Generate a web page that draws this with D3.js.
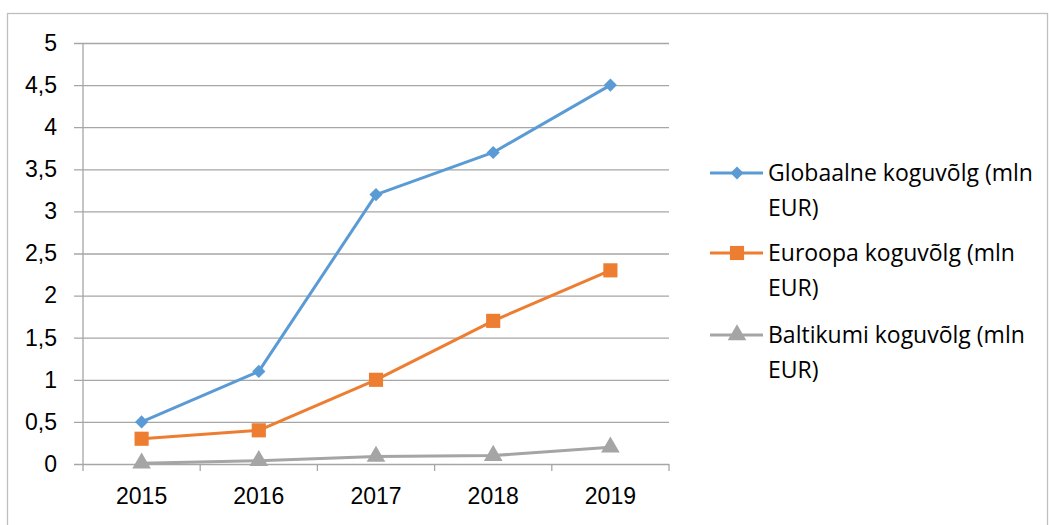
<!DOCTYPE html>
<html>
<head>
<meta charset="utf-8">
<script src="https://cdn.jsdelivr.net/npm/d3@7"></script>
<style>
  body { margin: 0; background: #fff; }
  svg { display: block; font-family: "Open Sans", Lato, sans-serif; }
</style>
</head>
<body>
<div id="chart"></div>
<script>
'use strict';

// data
let years = ['2015', '2016', '2017', '2018', '2019'];
let globalValues = [0.5, 1.1, 3.2, 3.7, 4.5];
let europeValues = [0.3, 0.4, 1.0, 1.7, 2.3];
let balticValues = [0.01, 0.04, 0.09, 0.1, 0.2];
let seriesNames = ['Globaalne koguvõlg (mln EUR)', 'Euroopa koguvõlg (mln EUR)', 'Baltikumi koguvõlg (mln EUR)'];
let yTicks = [0, 0.5, 1, 1.5, 2, 2.5, 3, 3.5, 4, 4.5, 5];

let w = 1049, h = 525;
let plot = {left: 83, right: 669, top: 43, bottom: 464};
let fontSize = 23;

let svg = d3.select('#chart').append('svg').attr('width', w).attr('height', h);

// outer frame
svg.append('rect')
    .attr('x', 7.5).attr('y', 13.5)
    .attr('width', 1040).attr('height', 530)
    .attr('fill', 'none').attr('stroke', '#bfbfbf').attr('stroke-width', 1.3);

let x = d3.scaleBand().domain(years).range([plot.left, plot.right]);
let y = d3.scaleLinear().domain([0, 5]).range([plot.bottom, plot.top]);

//gridlines + y labels
let yAxis = d3.axisLeft(y).tickValues(yTicks)
    .tickSize(-(plot.right - plot.left) - 9)
    .tickFormat(d => String(d).replace('.', ','));
let gy = svg.append('g')
    .attr('transform', `translate(${plot.right},0)`)
    .call(yAxis);
gy.select('.domain').remove();
gy.selectAll('.tick line')
    .attr('stroke', '#a6a6a6').attr('stroke-width', 1.3)
    .attr('x1', 0).attr('x2', -(plot.right - plot.left) - 9);
gy.selectAll('.tick text')
    .attr('x', -(plot.right - plot.left) - 26)
    .attr('font-size', fontSize).attr('fill', '#000');

// vertical axis line
svg.append('line')
    .attr('x1', plot.left).attr('x2', plot.left)
    .attr('y1', plot.top).attr('y2', plot.bottom)
    .attr('stroke', '#a6a6a6').attr('stroke-width', 1.3);

// x axis
let xAxis = d3.axisBottom(x).tickSize(0).tickPadding(24);
let gx = svg.append('g')
    .attr('transform', `translate(0,${plot.bottom})`)
    .call(xAxis);
gx.select('.domain').remove();
gx.selectAll('.tick text').attr('font-size', fontSize).attr('fill', '#000');

// category boundary ticks
let bounds = years.map(d => x(d)).concat([plot.right]);
svg.selectAll('.xtick').data(bounds).enter().append('line')
    .attr('x1', d => d).attr('x2', d => d)
    .attr('y1', plot.bottom).attr('y2', plot.bottom + 7)
    .attr('stroke', '#a6a6a6').attr('stroke-width', 1.3);

let series = [
    {name: seriesNames[0], values: globalValues, color: '#5b9bd5', symbol: d3.symbolDiamond2, size: 110},
    {name: seriesNames[1], values: europeValues, color: '#ed7d31', symbol: d3.symbolSquare, size: 200},
    {name: seriesNames[2], values: balticValues, color: '#a5a5a5', symbol: d3.symbolTriangle, size: 150}
];

let line = d3.line()
    .x((d, i) => x(years[i]) + x.bandwidth() / 2)
    .y(d => y(d));

for (let s of series) {
    svg.append('path')
        .datum(s.values)
        .attr('d', line)
        .attr('fill', 'none')
        .attr('stroke', s.color)
        .attr('stroke-width', 3)
        .attr('stroke-linejoin', 'round');
    svg.selectAll(null).data(s.values).enter().append('path')
        .attr('d', d3.symbol().type(s.symbol).size(s.size))
        .attr('transform', (d, i) => `translate(${x(years[i]) + x.bandwidth() / 2},${y(d)})`)
        .attr('fill', s.color);
}

// legend
let legendRows = [173, 253, 335];
series.forEach((s, i) => {
    let g = svg.append('g').attr('transform', `translate(710,${legendRows[i]})`);
    g.append('line').attr('x1', 0).attr('x2', 53).attr('y1', 0).attr('y2', 0)
        .attr('stroke', s.color).attr('stroke-width', 3);
    g.append('path').attr('d', d3.symbol().type(s.symbol).size(s.size))
        .attr('transform', 'translate(27,0)').attr('fill', s.color);
    let parts = s.name.split(' (');
    let t = g.append('text').attr('x', 58).attr('y', 8).attr('font-size', fontSize).attr('fill', '#000');
    t.append('tspan').attr('x', 58).text(parts[0] + ' (' + parts[1].split(' ')[0]);
    t.append('tspan').attr('x', 58).attr('dy', 35).text(parts[1].split(' ')[1]);
});
</script>
</body>
</html>
